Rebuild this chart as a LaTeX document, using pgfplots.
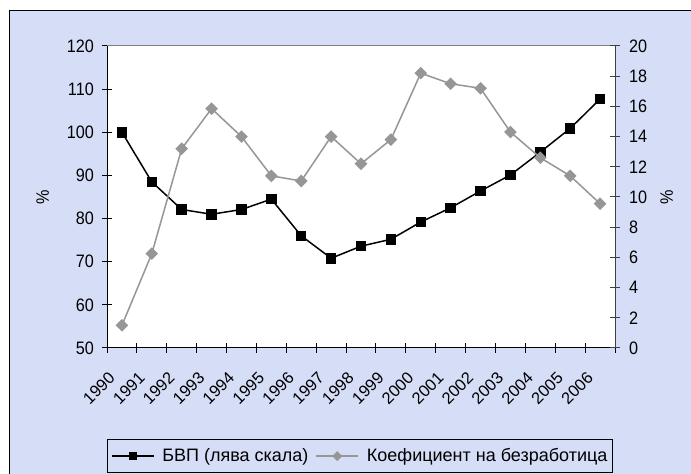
\documentclass[border=0pt]{standalone}
\usepackage{fontspec}
\setmainfont{Liberation Sans}
\newfontfamily\tickfont{Liberation Sans}[FakeStretch=0.9]
\usepackage{pgfplots}
\pgfplotsset{compat=1.18}
\definecolor{bg}{RGB}{214,222,247}
\definecolor{sertwo}{RGB}{150,150,150}
\definecolor{axgray}{RGB}{64,64,64}

\pgfplotstableread{
x gdp un
0 100.0 1.5
1 88.5 6.25
2 82.1 13.2
3 81.0 15.85
4 82.1 14.0
5 84.5 11.4
6 76.0 11.06
7 70.8 14.0
8 73.6 12.2
9 75.2 13.8
10 79.2 18.2
11 82.5 17.5
12 86.4 17.2
13 90.1 14.3
14 95.4 12.6
15 100.9 11.4
16 107.7 9.56
}\data

\begin{document}
\begin{tikzpicture}[x=1pt,y=1pt]
\useasboundingbox (0,0) rectangle (691,474);
\fill[white] (0,0) rectangle (691,474);
\filldraw[fill=bg, draw=black, line width=1pt] (9,-5) rectangle (700,463);

\pgfplotsset{
  common/.style={
    at={(107pt,126pt)}, anchor=south west,
    width=508pt, height=302pt, scale only axis,
    xmin=-0.5, xmax=16.5,
    tick align=center, major tick length=10pt,
    /pgf/number format/assume math mode=true,
    ticklabel style={font=\tickfont\fontsize{18}{20}\selectfont, inner sep=0pt},
    label style={font=\tickfont\fontsize{18}{20}\selectfont},
  }
}

\begin{axis}[common,
  axis background/.style={fill=white},
  ymin=50, ymax=120, ytick={50,60,...,120},
  axis x line*=bottom, axis y line*=left,
  axis line style={black, line width=1pt},
  tick style={black, line width=1pt},
  xtick={-0.5,0.5,...,16.5},
  xticklabels={1990,1991,1992,1993,1994,1995,1996,1997,1998,1999,2000,2001,2002,2003,2004,2005,2006,{}},
  xticklabel style={font=\fontsize{16.5}{18}\selectfont, xshift=5pt, yshift=-22pt, rotate=45, anchor=east},
  yticklabel style={anchor=east, xshift=-8pt},
  ylabel={\%},
  ylabel style={at={(axis description cs:-0.1266,0.5)}, anchor=center},
]
\draw[gray, line width=1pt] (rel axis cs:0,1) -- (rel axis cs:1,1);
\addplot[black, line width=1.5pt, mark=square*, mark size=4.5pt] table[x=x, y=gdp] {\data};
\end{axis}

\begin{axis}[common,
  ymin=0, ymax=20, ytick={0,2,...,20},
  axis x line=none, axis y line*=right,
  axis line style={axgray, line width=1pt},
  tick style={axgray, line width=1pt},
  yticklabel style={anchor=west, xshift=9pt},
  ylabel={\%},
  ylabel style={at={(axis description cs:1.1018,0.5)}, anchor=center, rotate=0},
  legend style={at={(0.0006,-0.302)}, anchor=north west, draw=black, fill=none,
    line width=1pt, legend columns=2, inner ysep=7pt, inner xsep=3pt,
    font=\fontsize{18}{21}\selectfont,
    /tikz/every odd column/.append style={column sep=6pt},
    /tikz/every even column/.append style={column sep=5pt}},
  legend image code/.code={\draw[mark repeat=2, mark phase=2, #1] plot coordinates {(0pt,0pt) (21pt,0pt) (42pt,0pt)};},
]
\addlegendimage{black, line width=1.5pt, mark=square*, mark size=3.3pt}
\addlegendentry{БВП (лява скала)}
\addplot[sertwo, line width=1.5pt, mark=square*, mark size=3.7pt, mark options={rotate=45}, forget plot] table[x=x, y=un] {\data};
\addlegendimage{sertwo, line width=1.5pt, mark=square*, mark size=2.8pt, mark options={rotate=45}}
\addlegendentry{Коефициент на безработица}
\end{axis}
\end{tikzpicture}
\end{document}
